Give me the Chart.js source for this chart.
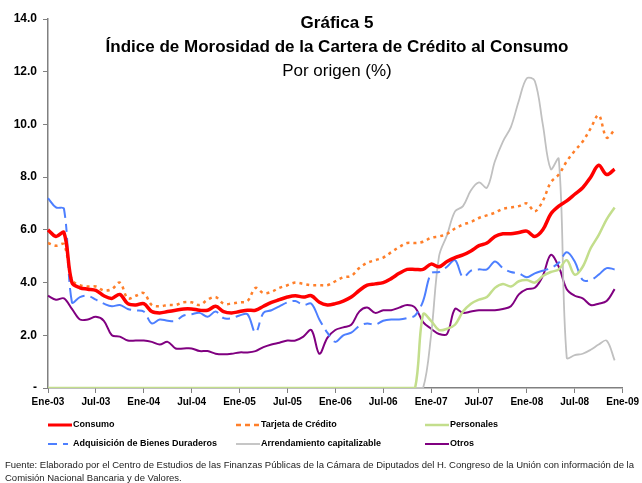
<!DOCTYPE html>
<html>
<head>
<meta charset="utf-8">
<script src="https://cdn.jsdelivr.net/npm/chart.js@4/dist/chart.umd.min.js"></script>
<style>
  body { margin: 0; background: #fff; font-family: Arial, "Liberation Sans", sans-serif; }
  #wrap { position: relative; width: 642px; height: 483px; }
  #title { position: absolute; left: 48px; width: 578px; top: 11px; text-align: center; font-size: 17px; line-height: 24px; color: #000; }
  #title b { display: block; }
  #note { position: absolute; left: 5px; top: 458px; font-size: 9.5px; line-height: 13px; color: #222; white-space: nowrap; }
</style>
</head>
<body>
<div id="wrap">
  <canvas id="chart" width="642" height="483"></canvas>
  <div id="title">
    <b>Gráfica 5</b>
    <b>Índice de Morosidad de la Cartera de Crédito al Consumo</b>
    <span>Por origen (%)</span>
  </div>
  <div id="note">Fuente: Elaborado por el Centro de Estudios de las Finanzas Públicas de la Cámara de Diputados del H. Congreso de la Unión con información de la<br>Comisión Nacional Bancaria y de Valores.</div>
</div>
<script>
const monthNames = ["Ene","Feb","Mar","Abr","May","Jun","Jul","Ago","Sep","Oct","Nov","Dic"];
const years = ["03","04","05","06","07","08","09"];

// monthly, Ene-03 .. Dic-08
const consumo = [6.0,5.75,5.9,4.0,3.8,3.75,3.7,3.5,3.4,3.55,
  3.2,3.15,3.2,2.9,2.85,2.9,2.95,3.0,3.0,2.95,
  2.95,3.1,2.9,2.85,2.9,2.95,2.95,3.1,3.25,3.35,
  3.45,3.5,3.45,3.5,3.25,3.15,3.2,3.3,3.45,3.7,
  3.9,3.95,4.0,4.15,4.35,4.5,4.5,4.5,4.7,4.6,
  4.8,4.95,5.05,5.2,5.4,5.5,5.75,5.85,5.85,5.9,
  5.95,5.75,6.0,6.6,6.9,7.1,7.35,7.6,8.0,8.45,
  8.1,8.3];

const tarjeta = [5.5,5.4,5.45,4.1,3.9,3.85,3.85,3.7,3.75,4.0,
  3.4,3.5,3.6,3.15,3.1,3.15,3.15,3.25,3.25,3.15,
  3.35,3.45,3.2,3.2,3.25,3.3,3.8,3.6,3.65,3.8,
  3.9,4.0,3.95,3.9,3.9,3.9,4.05,4.2,4.25,4.55,
  4.75,4.85,4.95,5.15,5.35,5.5,5.5,5.55,5.7,5.75,
  5.85,6.05,6.2,6.3,6.45,6.55,6.65,6.8,6.85,6.9,
  7.0,6.7,7.1,7.8,8.1,8.6,9.0,9.35,9.85,10.35,
  9.5,9.8];

const personales = [0,0,0,0,0,0,0,0,0,0,
  0,0,0,0,0,0,0,0,0,0,
  0,0,0,0,0,0,0,0,0,0,
  0,0,0,0,0,0,0,0,0,0,
  0,0,0,0,0,0,0,2.8,2.55,2.2,
  2.25,2.4,2.9,3.2,3.35,3.45,3.8,3.95,3.85,4.05,
  4.1,4.0,4.25,4.4,4.5,4.85,4.3,4.6,5.3,5.8,
  6.4,6.85];

const adquisicion = [7.2,6.85,6.8,3.25,3.45,3.5,3.35,3.2,3.1,3.15,
  3.0,2.95,2.9,2.45,2.6,2.55,2.55,2.75,2.8,2.85,
  2.7,2.9,2.65,2.65,2.75,2.8,2.1,2.85,2.95,3.1,
  3.25,3.3,3.15,3.2,2.6,2.1,1.75,2.0,2.1,2.35,
  2.45,2.4,2.55,2.6,2.6,2.65,2.75,3.3,4.35,4.4,
  4.6,4.85,4.2,4.45,4.5,4.5,4.8,4.55,4.4,4.35,
  4.2,4.35,4.45,4.55,4.75,5.15,4.8,4.1,4.1,4.3,
  4.55,4.5];

const arrendamiento = [0,0,0,0,0,0,0,0,0,0,
  0,0,0,0,0,0,0,0,0,0,
  0,0,0,0,0,0,0,0,0,0,
  0,0,0,0,0,0,0,0,0,0,
  0,0,0,0,0,0,0,0,2.0,5.0,
  5.8,6.7,6.9,7.5,7.8,7.6,8.6,9.35,9.9,10.9,
  11.75,11.65,10.0,8.3,8.7,1.15,1.25,1.3,1.45,1.65,
  1.8,1.05];

const otros = [3.5,3.35,3.4,3.0,2.6,2.6,2.7,2.55,2.0,1.95,
  1.8,1.8,1.8,1.75,1.65,1.75,1.5,1.5,1.5,1.4,
  1.4,1.3,1.28,1.3,1.35,1.35,1.4,1.55,1.65,1.72,
  1.8,1.8,1.95,2.2,1.3,1.9,2.2,2.3,2.4,2.9,
  3.05,2.85,2.95,2.95,3.05,3.15,3.05,2.5,2.25,2.05,
  2.05,3.0,2.85,2.9,2.95,2.95,2.95,3.0,3.1,3.55,
  3.75,3.8,4.25,5.05,4.6,3.75,3.5,3.4,3.15,3.2,
  3.3,3.75];

// Ene-03 .. Ene-09 (73 categories)
const labels = [];
years.forEach(y => monthNames.forEach(m => labels.push(m + "-" + y)));
labels.length = 73;

const FONT = 'Arial, "Liberation Sans", sans-serif';

function line(label, data, color, width, dash, legendDash){
  return {
    label: label, data: data,
    borderColor: color, backgroundColor: color,
    borderWidth: width, borderDash: dash || [],
    legendDash: legendDash || dash || [],
    pointRadius: 0, fill: false, tension: 0.35,
    borderCapStyle: 'butt'
  };
}

// legend in 3 columns x 2 rows under the axis
const gridLegend = {
  id: 'gridLegend',
  afterDraw(chart){
    const ctx = chart.ctx;
    const cols = [48, 236, 425];
    const rows = [425, 444];
    chart.data.datasets.forEach((ds, i) => {
      const x = cols[i % 3], y = rows[Math.floor(i / 3)];
      ctx.save();
      ctx.strokeStyle = ds.borderColor;
      ctx.lineWidth = Math.min(ds.borderWidth, 3);
      ctx.setLineDash(ds.legendDash);
      ctx.beginPath();
      ctx.moveTo(x, y);
      ctx.lineTo(x + 24, y);
      ctx.stroke();
      ctx.setLineDash([]);
      ctx.fillStyle = '#000';
      ctx.font = 'bold 9px ' + FONT;
      ctx.textBaseline = 'middle';
      ctx.fillText(ds.label, x + 25, y);
      ctx.restore();
    });
  }
};

new Chart(document.getElementById('chart'), {
  type: 'line',
  data: {
    labels: labels,
    datasets: [
      line('Consumo', consumo, '#FF0000', 3.5),
      line('Tarjeta de Crédito', tarjeta, '#FF7F2A', 2.5, [3, 4], [5, 4]),
      line('Personales', personales, '#C3DE8C', 2.5),
      line('Adquisición de Bienes Duraderos', adquisicion, '#4D7FFF', 2, [30, 6, 8, 6], [9, 6, 5, 6]),
      line('Arrendamiento capitalizable', arrendamiento, '#C0C0C0', 1.8),
      line('Otros', otros, '#800080', 2)
    ]
  },
  options: {
    responsive: false,
    animation: false,
    layout: { padding: { left: 0, right: 16, top: 19, bottom: 70 } },
    plugins: { legend: { display: false }, tooltip: { enabled: false } },
    scales: {
      x: {
        offset: false,
        grid: { display: true, drawOnChartArea: false, drawTicks: true, tickLength: 5, color: '#808080' },
        border: { display: true, color: '#808080', width: 1.5 },
        ticks: {
          autoSkip: false, maxRotation: 0, minRotation: 0, padding: 3, color: '#000',
          font: { family: FONT, size: 10, weight: 'bold' },
          callback: function(v, i){ return i % 6 === 0 ? this.getLabelForValue(v) : null; }
        },
        afterFit(s){ s.height = 25; }
      },
      y: {
        min: 0, max: 14,
        grid: { display: true, drawOnChartArea: false, drawTicks: true, tickLength: 5, color: '#808080' },
        border: { display: true, color: '#808080', width: 1.5 },
        ticks: {
          stepSize: 2, padding: 6, color: '#000',
          font: { family: FONT, size: 12, weight: 'bold' },
          callback: v => v === 0 ? '-' : v.toFixed(1)
        },
        afterFit(s){ s.width = 48; }
      }
    }
  },
  plugins: [gridLegend]
});
</script>
</body>
</html>
